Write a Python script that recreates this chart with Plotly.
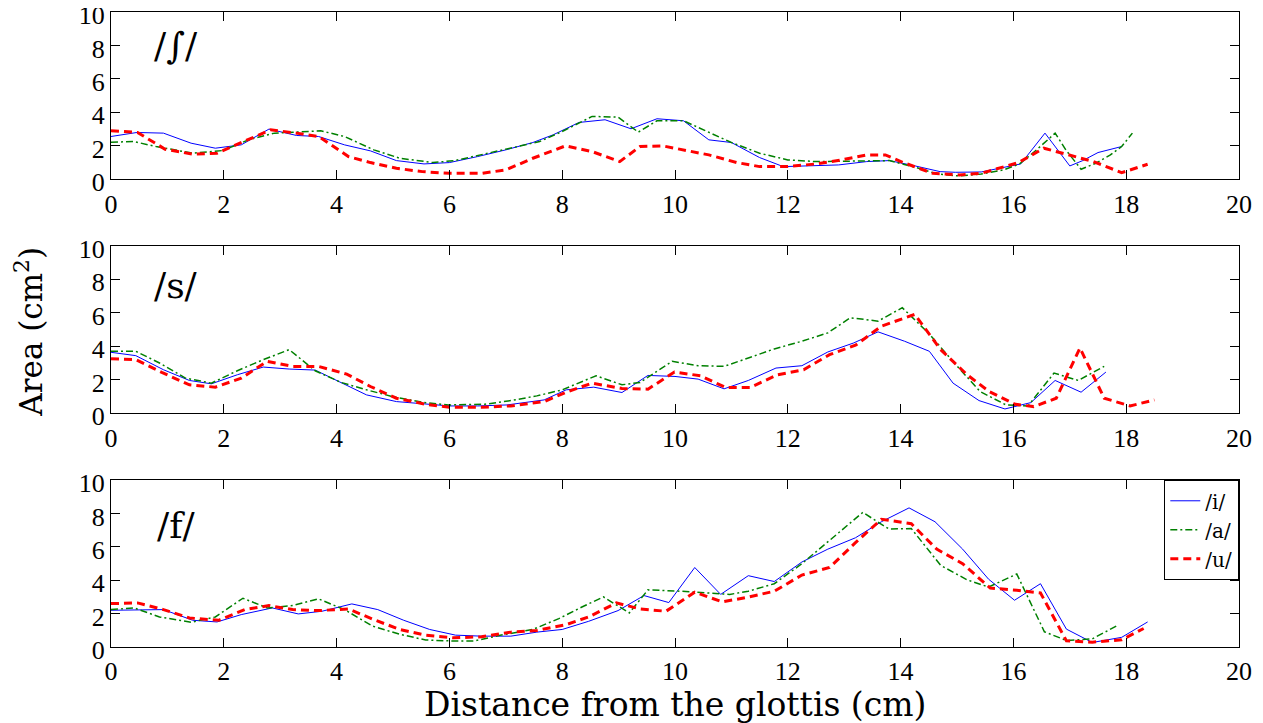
import plotly.graph_objects as go
from plotly.subplots import make_subplots

# ---------------- data ----------------
panel_labels = ["/∫/", "/s/", "/f/"]
series_names = ["/i/", "/a/", "/u/"]

# /ʃ/ panel
sh_i_x = [0, 0.46, 0.93, 1.42, 1.85, 2.31, 2.8, 3.29, 3.68, 4.14, 4.6, 5.06, 5.55, 6.0, 6.5, 7.0, 7.48, 7.84, 8.3, 8.76, 9.22, 9.68, 10.15, 10.6, 11.0, 11.5, 11.92, 12.36, 12.9, 13.4, 13.8, 14.26, 14.7, 14.97, 15.43, 16.13, 16.56, 17.0, 17.23, 17.5, 17.92]
sh_i_y = [2.56, 2.8, 2.76, 2.16, 1.86, 2.06, 3.0, 2.62, 2.56, 2.06, 1.7, 1.12, 0.92, 1.0, 1.36, 1.76, 2.2, 2.66, 3.4, 3.56, 3.02, 3.62, 3.5, 2.36, 2.2, 1.3, 0.76, 0.8, 0.86, 1.06, 1.12, 0.8, 0.46, 0.42, 0.44, 0.92, 2.76, 0.8, 1.12, 1.6, 1.96]
sh_a_x = [0, 0.4, 0.8, 1.45, 1.98, 2.44, 2.9, 3.29, 3.72, 4.14, 4.66, 5.12, 5.71, 6.1, 6.57, 7.0, 7.6, 8.0, 8.53, 8.99, 9.35, 9.68, 10.15, 11.0, 11.5, 12.0, 12.5, 12.95, 13.4, 13.8, 14.26, 14.65, 15.04, 15.43, 15.82, 16.11, 16.41, 16.74, 16.93, 17.2, 17.46, 17.72, 17.92, 18.11]
sh_a_y = [2.22, 2.26, 1.96, 1.56, 1.72, 2.36, 2.76, 2.82, 2.9, 2.56, 1.76, 1.26, 1.0, 1.12, 1.46, 1.8, 2.26, 2.86, 3.76, 3.72, 2.82, 3.5, 3.5, 2.2, 1.56, 1.16, 1.06, 1.1, 1.1, 1.12, 0.72, 0.32, 0.2, 0.32, 0.56, 0.92, 1.76, 2.76, 1.76, 0.6, 0.96, 1.46, 1.96, 2.76]
sh_u_x = [0, 0.47, 0.96, 1.45, 1.88, 2.31, 2.83, 3.29, 3.68, 4.21, 4.6, 5.06, 5.52, 6.0, 6.57, 7.0, 7.48, 8.06, 8.53, 9.02, 9.38, 9.78, 10.15, 10.6, 11.1, 11.5, 12.0, 12.5, 12.95, 13.4, 13.73, 14.05, 14.57, 15.04, 15.43, 15.82, 16.09, 16.54, 17.0, 17.42, 17.92, 18.38]
sh_u_y = [2.9, 2.8, 1.8, 1.5, 1.56, 2.2, 2.96, 2.76, 2.56, 1.36, 1.0, 0.66, 0.46, 0.36, 0.36, 0.56, 1.26, 2.0, 1.66, 1.06, 1.96, 2.0, 1.76, 1.46, 1.0, 0.76, 0.76, 0.92, 1.16, 1.46, 1.46, 1.0, 0.36, 0.26, 0.36, 0.72, 1.0, 1.86, 1.46, 1.06, 0.4, 0.9]

# /s/ panel
s_i_x = [0, 0.44, 0.93, 1.39, 1.78, 2.24, 2.7, 3.16, 3.62, 4.08, 4.53, 5.06, 5.52, 6.0, 6.5, 7.02, 7.68, 8.07, 8.56, 9.06, 9.52, 10.0, 10.41, 10.87, 11.3, 11.79, 12.25, 12.71, 13.17, 13.6, 14.07, 14.51, 14.93, 15.39, 15.85, 16.31, 16.74, 17.2, 17.64]
s_i_y = [3.64, 3.44, 2.6, 1.96, 1.76, 2.3, 2.76, 2.64, 2.58, 1.84, 1.1, 0.7, 0.56, 0.44, 0.44, 0.5, 0.8, 1.4, 1.56, 1.24, 2.26, 2.2, 2.04, 1.46, 1.96, 2.7, 2.84, 3.66, 4.2, 4.86, 4.3, 3.7, 1.8, 0.76, 0.26, 0.64, 1.96, 1.26, 2.46]
s_a_x = [0, 0.44, 0.86, 1.32, 1.78, 2.24, 2.7, 3.16, 3.62, 4.08, 4.53, 4.99, 5.52, 5.98, 6.63, 7.09, 7.55, 8.0, 8.6, 9.06, 9.38, 9.95, 10.41, 10.87, 11.3, 11.76, 12.25, 12.71, 13.11, 13.6, 14.03, 14.49, 14.98, 15.41, 15.87, 16.26, 16.72, 17.15, 17.61]
s_a_y = [3.7, 3.7, 3.0, 2.1, 1.8, 2.54, 3.2, 3.8, 2.54, 1.84, 1.4, 1.0, 0.66, 0.5, 0.54, 0.76, 1.04, 1.4, 2.24, 1.7, 1.84, 3.1, 2.84, 2.8, 3.3, 3.84, 4.3, 4.8, 5.7, 5.5, 6.3, 4.8, 2.9, 1.3, 0.5, 0.44, 2.4, 1.96, 2.8]
s_u_x = [0, 0.44, 0.9, 1.39, 1.85, 2.31, 2.77, 3.22, 3.68, 4.18, 4.6, 5.06, 5.58, 6.0, 6.57, 7.09, 7.68, 8.07, 8.53, 9.06, 9.52, 9.99, 10.45, 10.9, 11.33, 11.82, 12.28, 12.74, 13.2, 13.66, 14.25, 14.71, 15.18, 15.57, 16.03, 16.36, 16.76, 17.18, 17.61, 18.07, 18.5]
s_u_y = [3.26, 3.2, 2.44, 1.7, 1.56, 2.1, 3.1, 2.8, 2.8, 2.34, 1.6, 0.9, 0.54, 0.36, 0.36, 0.44, 0.7, 1.26, 1.8, 1.48, 1.44, 2.46, 2.24, 1.54, 1.54, 2.3, 2.6, 3.5, 4.06, 5.2, 5.9, 3.8, 2.3, 1.3, 0.54, 0.4, 0.9, 3.9, 0.9, 0.44, 0.8]

# /f/ panel
f_i_x = [0, 0.44, 0.93, 1.45, 1.88, 2.31, 2.86, 3.32, 3.74, 4.27, 4.73, 5.19, 5.65, 6.11, 6.57, 7.09, 7.55, 8.0, 8.47, 8.99, 9.45, 9.89, 10.35, 10.81, 11.3, 11.76, 12.25, 12.71, 13.2, 13.66, 14.15, 14.61, 15.1, 15.56, 16.02, 16.48, 16.94, 17.4, 17.92, 18.38]
f_i_y = [2.2, 2.24, 2.24, 1.6, 1.5, 1.94, 2.34, 1.98, 2.14, 2.58, 2.24, 1.6, 1.05, 0.71, 0.65, 0.65, 0.89, 1.05, 1.54, 2.18, 3.08, 2.66, 4.76, 3.15, 4.27, 3.92, 5.09, 5.86, 6.54, 7.5, 8.33, 7.5, 5.86, 4.06, 2.8, 3.79, 1.07, 0.27, 0.58, 1.5]
f_a_x = [0, 0.41, 0.86, 1.42, 1.85, 2.34, 2.77, 3.22, 3.68, 4.14, 4.63, 5.12, 5.58, 6.04, 6.44, 6.9, 7.48, 7.94, 8.34, 8.73, 9.19, 9.52, 10.12, 10.58, 10.97, 11.3, 11.76, 12.25, 12.8, 13.33, 13.79, 14.19, 14.71, 15.18, 15.56, 16.06, 16.55, 16.94, 17.4, 17.85]
f_a_y = [2.24, 2.34, 1.8, 1.48, 1.8, 2.92, 2.34, 2.48, 2.88, 2.24, 1.26, 0.76, 0.42, 0.36, 0.36, 0.7, 1.05, 1.7, 2.38, 3.0, 2.04, 3.42, 3.34, 3.24, 3.15, 3.34, 3.79, 4.99, 6.54, 8.06, 7.07, 7.09, 4.89, 4.02, 3.59, 4.37, 0.91, 0.39, 0.49, 1.3]
f_u_x = [0, 0.47, 0.93, 1.39, 1.91, 2.37, 2.8, 3.22, 3.68, 4.21, 4.66, 5.12, 5.58, 6.07, 6.57, 7.09, 7.55, 8.07, 8.47, 8.96, 9.38, 9.84, 10.35, 10.84, 11.3, 11.76, 12.25, 12.74, 13.2, 13.66, 14.19, 14.64, 15.1, 15.59, 16.06, 16.48, 16.94, 17.4, 17.92, 18.31]
f_u_y = [2.6, 2.64, 2.24, 1.74, 1.6, 2.24, 2.48, 2.24, 2.18, 2.28, 1.64, 1.05, 0.71, 0.55, 0.61, 0.89, 0.99, 1.34, 1.8, 2.64, 2.28, 2.14, 3.28, 2.7, 2.99, 3.34, 4.31, 4.76, 6.25, 7.65, 7.38, 5.86, 4.99, 3.53, 3.4, 3.24, 0.37, 0.29, 0.43, 1.11]

x_ticks = [0, 2, 4, 6, 8, 10, 12, 14, 16, 18, 20]
y_ticks = [0, 2, 4, 6, 8, 10]

panels = [
    [(sh_i_x, sh_i_y), (sh_a_x, sh_a_y), (sh_u_x, sh_u_y)],
    [(s_i_x, s_i_y), (s_a_x, s_a_y), (s_u_x, s_u_y)],
    [(f_i_x, f_i_y), (f_a_x, f_a_y), (f_u_x, f_u_y)],
]

# ---------------- style ----------------
FONT = "Liberation Serif"
TITLE_FONT = "DejaVu Serif"
styles = [
    dict(color="#0000ff", width=1, dash="solid"),
    dict(color="#008000", width=1.5, dash="7px,3px,2px,3px"),
    dict(color="#ff0000", width=3, dash="8px,5px"),
]

fig = make_subplots(rows=3, cols=1)

for r, panel in enumerate(panels, start=1):
    for k, (xs, ys) in enumerate(panel):
        fig.add_trace(
            go.Scatter(
                x=xs, y=ys, mode="lines", name=series_names[k],
                line=styles[k], showlegend=(r == 3),
            ),
            row=r, col=1,
        )

domains = [[0.7365, 1.0], [0.368, 0.632], [0.0, 0.263]]
axis_common = dict(
    showline=True, linecolor="black", linewidth=1.3, mirror="ticks",
    ticks="inside", ticklen=9, tickwidth=1, tickcolor="black",
    showgrid=False, zeroline=False, automargin=False,
    ticklabeloverflow="allow",
    tickfont=dict(family=FONT, size=26, color="black"),
)
for r in range(1, 4):
    fig.update_xaxes(range=[0, 20], tickvals=x_ticks, row=r, col=1,
                     ticklabelstandoff=1, **axis_common)
    fig.update_yaxes(range=[0, 10], tickvals=y_ticks, domain=domains[r - 1],
                     ticklabelshift=3, row=r, col=1, **axis_common)

label_pos = [8.0, 7.6, 7.3]
for r in range(1, 4):
    suffix = "" if r == 1 else str(r)
    fig.add_annotation(
        x=1.15, y=label_pos[r - 1], xref="x" + suffix, yref="y" + suffix,
        text=panel_labels[r - 1], showarrow=False,
        xanchor="center", yanchor="middle",
        font=dict(family=TITLE_FONT, size=36, color="black"),
    )

fig.add_annotation(
    x=0.5, y=-0.091, xref="paper", yref="paper",
    xanchor="center", yanchor="middle",
    text="Distance from the glottis (cm)", showarrow=False,
    font=dict(family=TITLE_FONT, size=33, color="black"),
)
fig.add_annotation(
    x=-0.0725, y=0.497, xref="paper", yref="paper", textangle=-90,
    xanchor="center", yanchor="middle",
    text="Area (cm<sup>2</sup>)", showarrow=False,
    font=dict(family=TITLE_FONT, size=31, color="black"),
)

fig.update_layout(
    template="none",
    width=1255, height=715,
    margin=dict(l=103, r=24, t=4, b=76, pad=0),
    paper_bgcolor="white", plot_bgcolor="white",
    showlegend=True,
    legend=dict(
        x=1, xanchor="right", y=0.263, yanchor="top",
        bordercolor="black", borderwidth=1.3, bgcolor="white",
        font=dict(family=TITLE_FONT, size=20, color="black"),
        tracegroupgap=0, itemwidth=30,
    ),
)

fig.write_html("out.html")
